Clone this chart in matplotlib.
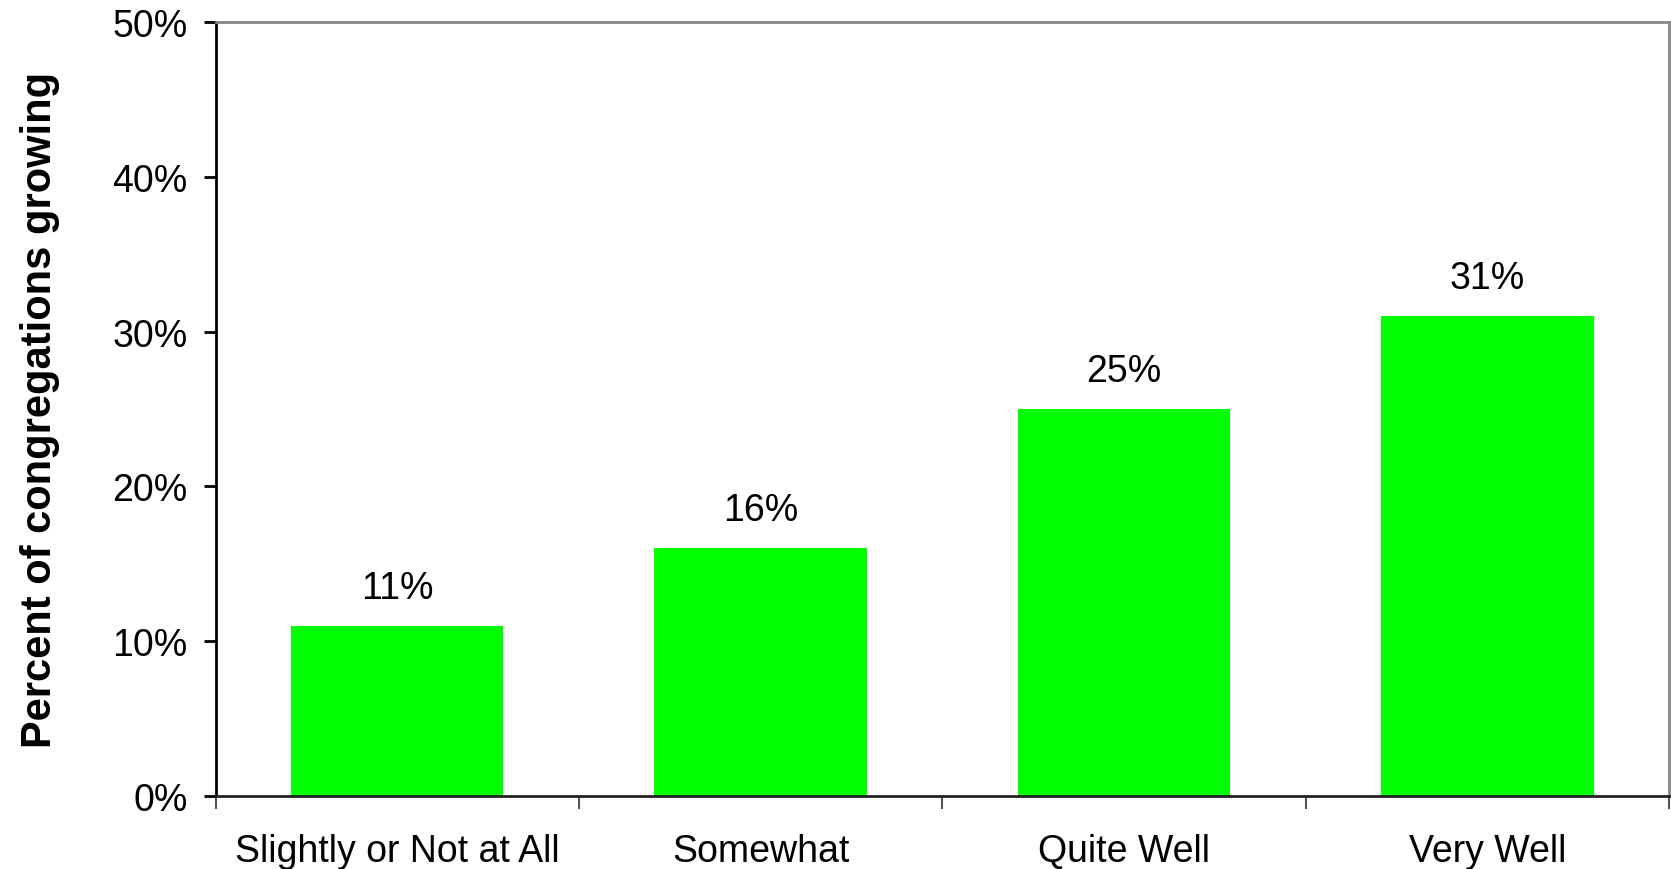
import matplotlib
matplotlib.use('Agg')
import matplotlib.pyplot as plt
from matplotlib.ticker import PercentFormatter

categories = ['Slightly or Not at All', 'Somewhat', 'Quite Well', 'Very Well']
pct_growing = [0.11, 0.16, 0.25, 0.31]
y_ticks = [0, 0.1, 0.2, 0.3, 0.4, 0.5]

plt.rcParams['font.family'] = ['Liberation Sans', 'DejaVu Sans']

fig = plt.figure(figsize=(16.71, 8.70), dpi=100)
ax = fig.add_axes([215.5 / 1671, 1 - 796.7 / 870, (1669 - 215.5) / 1671, (796.7 - 23.3) / 870])

xs = range(len(categories))
bars = ax.bar(xs, pct_growing, width=0.585, color='#00ff00', linewidth=0, zorder=2)

for x, v in zip(xs, pct_growing):
    ax.annotate('%d%%' % round(v * 100), (x, v), xytext=(0, 20), textcoords='offset points',
                ha='center', va='baseline', fontsize=27)

ax.set_xlim(-0.5, len(categories) - 0.5)
ax.set_ylim(0, 0.5)
ax.set_yticks(y_ticks)
ax.yaxis.set_major_formatter(PercentFormatter(1.0, decimals=0))
ax.tick_params(axis='y', labelsize=27, length=9, width=2, direction='out', pad=11)

ax.set_xticks(list(xs))
ax.set_xticklabels(categories)
ax.tick_params(axis='x', which='major', length=0, labelsize=27, pad=27)
ax.set_xticks([i - 0.5 for i in range(len(categories) + 1)], minor=True)
ax.tick_params(axis='x', which='minor', length=9, width=1.5, color='#555555', direction='out')

ax.set_ylabel('Percent of congregations growing', fontsize=30, fontweight='bold', labelpad=38)

ax.spines['left'].set_linewidth(2)
ax.spines['left'].set_color('black')
ax.spines['bottom'].set_linewidth(2)
ax.spines['bottom'].set_color('#222222')
ax.spines['top'].set_color('#888888')
ax.spines['top'].set_linewidth(2)
ax.spines['right'].set_color('#888888')
ax.spines['right'].set_linewidth(2)

fig.savefig('out.png', dpi=100)
